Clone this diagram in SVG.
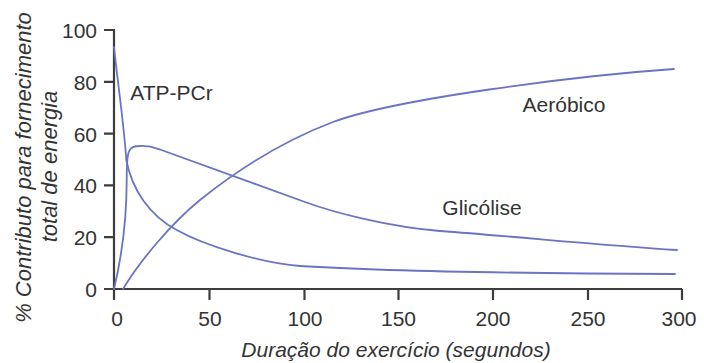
<svg xmlns="http://www.w3.org/2000/svg" width="704" height="363" viewBox="0 0 704 363">
  <style>
    .axis { stroke: #3d3d3d; stroke-width: 2.2; fill: none; stroke-linecap: butt; }
    .curve { stroke: #6a74c3; stroke-width: 1.8; fill: none; stroke-linecap: round; stroke-linejoin: round; }
    .tick { font-family: "Liberation Sans", Arial, sans-serif; font-size: 21px; fill: #333333; }
    .lab { font-family: "Liberation Sans", Arial, sans-serif; font-size: 21px; fill: #333333; }
    .title { font-family: "Liberation Sans", Arial, sans-serif; font-style: italic; fill: #333333; }
  </style>
  <rect width="704" height="363" fill="#ffffff"/>

  <g id="axes">
    <path class="axis" d="M114,29 L114,300 M104,289 L682,289 M682,289 L682,300"/>
    <path class="axis" d="M104,30 H114 M104,81.8 H114 M104,133.6 H114 M104,185.4 H114 M104,237.2 H114"/>
    <path class="axis" d="M209.5,289 V300 M304.5,289 V300 M398.5,289 V300 M493,289 V300 M588,289 V300"/>
  </g>

  <g id="y-ticks" class="tick" text-anchor="end">
    <text x="97" y="38">100</text>
    <text x="97" y="89.8">80</text>
    <text x="97" y="141.6">60</text>
    <text x="97" y="193.4">40</text>
    <text x="97" y="245.2">20</text>
    <text x="97" y="297">0</text>
  </g>

  <g id="x-ticks" class="tick" text-anchor="middle">
    <text x="117" y="326">0</text>
    <text x="210" y="326">50</text>
    <text x="305" y="326">100</text>
    <text x="398.5" y="326">150</text>
    <text x="493" y="326">200</text>
    <text x="588" y="326">250</text>
    <text x="679" y="326">300</text>
  </g>

  <g id="curves">
    <path id="atp-pcr" class="curve" d="M114,47 C118,85 124,125 126.3,160 C132,190 150,216 176.7,230 C202.7,244.6 260,263 300,266 C380,271 550,273.5 675,274"/>
    <path id="glicolise" class="curve" d="M114,289 C119,268 126.7,230 126.7,180 C126.7,150 128,146 140,146 C150,145.5 155,147.7 160,149.5 L305,202 C335,213 390,227 440,231 C520,237 600,245 677,250"/>
    <path id="aerobico" class="curve" d="M123,289 C141,259 173,222 200,200 C235,172 280,142 333,122 C395,99 574,76 674,69"/>
  </g>

  <g id="curve-labels" class="lab" text-anchor="middle">
    <text x="171.5" y="100">ATP-PCr</text>
    <text x="564" y="112">Aeróbico</text>
    <text x="482" y="215">Glicólise</text>
  </g>

  <g id="y-title" class="title" font-size="22" text-anchor="middle">
    <text transform="translate(31,167.5) rotate(-90)">% Contributo para fornecimento</text>
    <text transform="translate(57,166.5) rotate(-90)">total de energia</text>
  </g>

  <text id="x-title" class="title" font-size="21" x="396" y="357" text-anchor="middle">Duração do exercício (segundos)</text>
</svg>
